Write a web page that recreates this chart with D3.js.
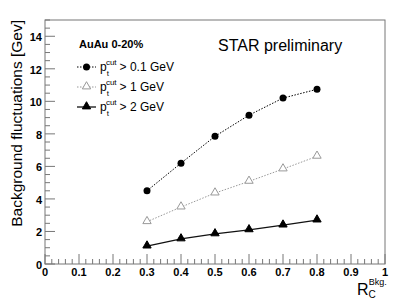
<!DOCTYPE html>
<html>
<head>
<meta charset="utf-8">
<script src="https://cdn.jsdelivr.net/npm/d3@7"></script>
<style>
  body { margin: 0; background: #fff; }
  text { font-family: "Liberation Sans", Arial, sans-serif; }
</style>
</head>
<body>
<div id="chart"></div>
<script>
const svgWidth = 395;
const svgHeight = 306;

const margin = { top: 20, right: 10, bottom: 42, left: 45 };

const width = svgWidth - margin.left - margin.right;
const height = svgHeight - margin.top - margin.bottom;

// data
const rcValues = [0.3, 0.4, 0.5, 0.6, 0.7, 0.8];
const pt01 = [4.5, 6.2, 7.85, 9.15, 10.2, 10.74];
const pt1 = [2.6, 3.5, 4.36, 5.08, 5.84, 6.62];
const pt2 = [1.1, 1.54, 1.85, 2.1, 2.39, 2.7];
const seriesNames = ["> 0.1 GeV", "> 1 GeV", "> 2 GeV"];
const xTicks = [0, 0.1, 0.2, 0.3, 0.4, 0.5, 0.6, 0.7, 0.8, 0.9, 1];
const yTicks = [0, 2, 4, 6, 8, 10, 12, 14];

const svg = d3.select("#chart")
  .append("svg")
  .attr("width", svgWidth)
  .attr("height", svgHeight);

const chartGroup = svg.append("g")
  .attr("transform", `translate(${margin.left}, ${margin.top})`);

const xScale = d3.scaleLinear().domain([0, 1]).range([0, width]);
const yScale = d3.scaleLinear().domain([0, 15]).range([height, 0]);

const axisColor = "#777";

// frame
chartGroup.append("rect")
  .attr("width", width).attr("height", height)
  .attr("fill", "none").attr("stroke", axisColor).attr("stroke-width", 1);

// x ticks (inward, ROOT style)
const xMinor = d3.range(0, 1.0001, 0.02);
chartGroup.append("g").selectAll("line")
  .data(xMinor)
  .join("line")
  .attr("x1", d => xScale(d)).attr("x2", d => xScale(d))
  .attr("y1", height)
  .attr("y2", (d, i) => height - (i % 5 === 0 ? 10 : 5))
  .attr("stroke", axisColor);

chartGroup.append("g").selectAll("text")
  .data(xTicks)
  .join("text")
  .attr("x", d => xScale(d))
  .attr("y", height + 12)
  .attr("text-anchor", "middle")
  .attr("font-size", 11)
  .attr("font-weight", "bold")
  .attr("fill", "#000")
  .text(d => d);

// y ticks
const yMinor = d3.range(0, 15.0001, 0.5);
chartGroup.append("g").selectAll("line")
  .data(yMinor)
  .join("line")
  .attr("x1", 0)
  .attr("x2", (d, i) => (i % 4 === 0 ? 10 : 5))
  .attr("y1", d => yScale(d)).attr("y2", d => yScale(d))
  .attr("stroke", axisColor);

chartGroup.append("g").selectAll("text")
  .data(yTicks)
  .join("text")
  .attr("x", -3)
  .attr("y", d => yScale(d) + 5)
  .attr("text-anchor", "end")
  .attr("font-size", 11)
  .attr("font-weight", "bold")
  .attr("fill", "#000")
  .text(d => d);

// axis titles
svg.append("text")
  .attr("transform", `translate(22, ${margin.top}) rotate(-90)`)
  .attr("text-anchor", "end")
  .attr("font-size", 15.5)
  .text("Background fluctuations [Gev]");

const xTitle = svg.append("text")
  .attr("x", 357).attr("y", 295)
  .attr("font-size", 16);
xTitle.append("tspan").text("R");
xTitle.append("tspan").attr("font-size", 10).attr("dy", 3).text("C");
xTitle.append("tspan").attr("font-size", 9).attr("dx", -7).attr("dy", -13).text("Bkg.");

// series
const series = [
  { values: pt01, color: "#000", dash: "1.5,1.5", marker: "circle", fill: "#000" },
  { values: pt1, color: "#999", dash: "1.5,1.5", marker: "triangle", fill: "none" },
  { values: pt2, color: "#111", dash: null, marker: "triangle", fill: "#000" }
];

const line = d3.line()
  .x(d => xScale(d[0]))
  .y(d => yScale(d[1]));

const triangle = d3.symbol().type(d3.symbolTriangle).size(30);

function drawMarker(g, s, x, y) {
  if (s.marker === "circle") {
    g.append("circle").attr("cx", x).attr("cy", y).attr("r", 3.5).attr("fill", s.fill);
  } else {
    g.append("path")
      .attr("d", triangle())
      .attr("transform", `translate(${x},${y - 0.5})`)
      .attr("fill", s.fill === "none" ? "#fff" : s.fill)
      .attr("stroke", s.fill === "none" ? s.color : s.fill)
      .attr("stroke-width", 1);
  }
}

series.forEach(s => {
  const pts = rcValues.map((x, i) => [x, s.values[i]]);
  chartGroup.append("path")
    .datum(pts)
    .attr("d", line)
    .attr("fill", "none")
    .attr("stroke", s.color)
    .attr("stroke-width", s.dash ? 1 : 1.3)
    .attr("stroke-dasharray", s.dash);
  pts.forEach(p => drawMarker(chartGroup, s, xScale(p[0]), yScale(p[1])));
});

// legend
const legend = svg.append("g");
legend.append("text")
  .attr("x", 79).attr("y", 48)
  .attr("font-size", 11).attr("font-weight", "bold")
  .text("AuAu 0-20%");

series.forEach((s, i) => {
  const ly = 67 + i * 20;
  legend.append("line")
    .attr("x1", 77).attr("x2", 96)
    .attr("y1", ly).attr("y2", ly)
    .attr("stroke", s.color)
    .attr("stroke-width", s.dash ? 1 : 1.3)
    .attr("stroke-dasharray", s.dash);
  drawMarker(legend, s, 86.5, ly);
  const t = legend.append("text")
    .attr("x", 100).attr("y", ly + 4)
    .attr("font-size", 12);
  t.append("tspan").text("p");
  t.append("tspan").attr("font-size", 8).attr("dy", 5).text("t");
  t.append("tspan").attr("font-size", 8).attr("dx", -3).attr("dy", -11).text("cut");
  t.append("tspan").attr("dy", 6).attr("dx", 3).text(seriesNames[i]);
});

svg.append("text")
  .attr("x", 218).attr("y", 51)
  .attr("font-size", 16)
  .text("STAR preliminary");
</script>
</body>
</html>
